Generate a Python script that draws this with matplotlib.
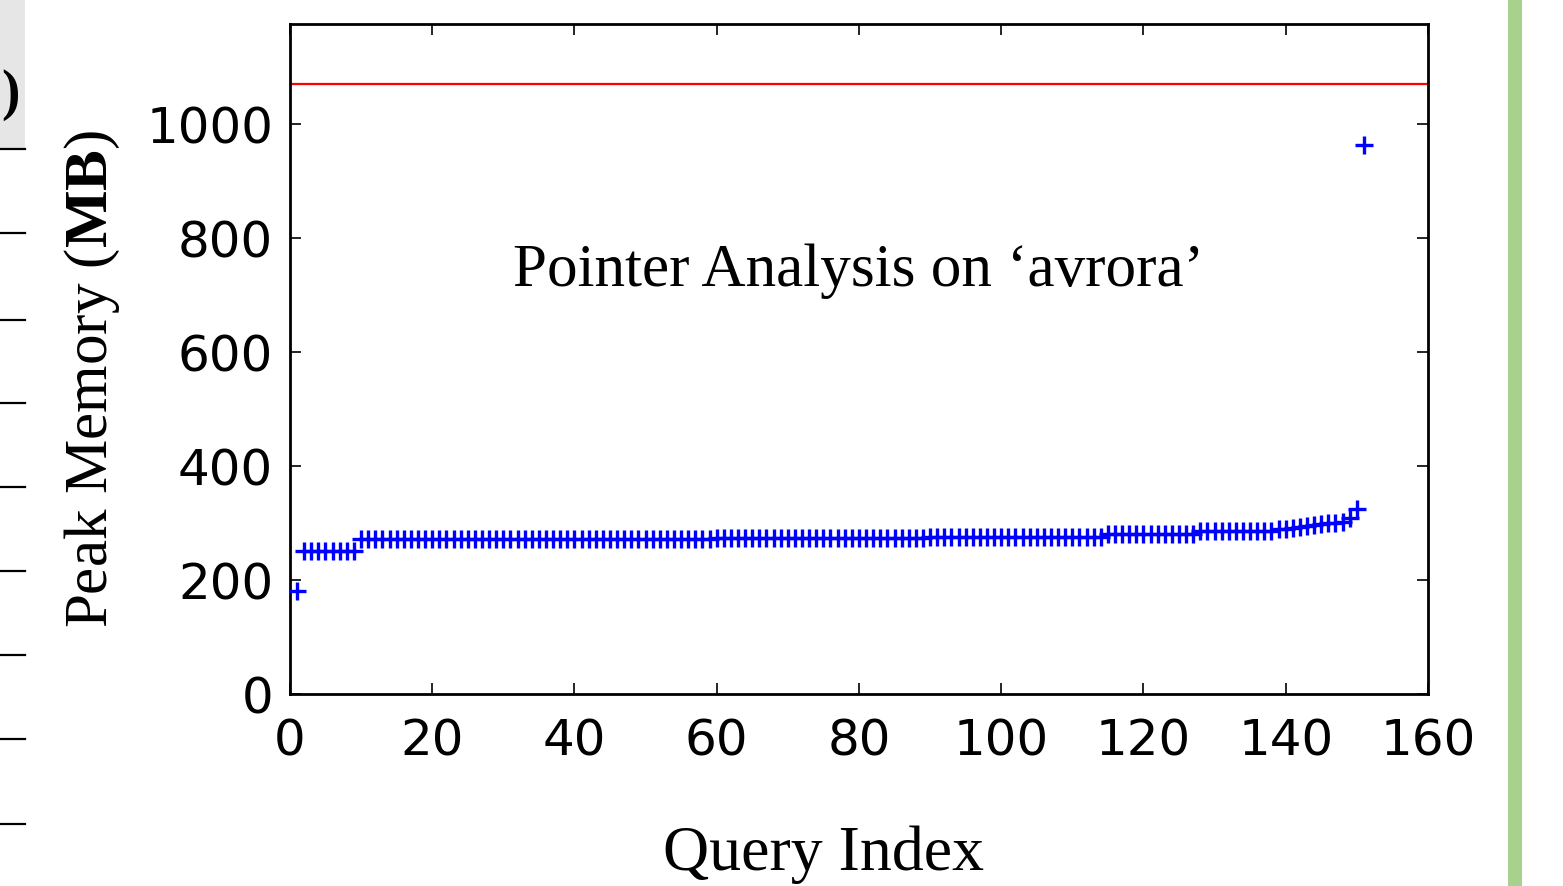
import matplotlib
matplotlib.use("Agg")
import matplotlib.pyplot as plt
from matplotlib.patches import Rectangle
from matplotlib.lines import Line2D

# ---- data ----
query_index = list(range(1, 152))
peak_memory = (
    [180]
    + [250] * 8                      # 2-9
    + [272] * 50                     # 10-59
    + [274] * 30                     # 60-89
    + [276] * 25                     # 90-114
    + [280] * 13                     # 115-127
    + [285] * 11                     # 128-138
    + [289, 290, 291, 293, 294, 296, 298, 299, 300, 302]  # 139-148
    + [308, 325, 962]                # 149-151
)
memory_limit = 1070
title_text = "Pointer Analysis on \u2018avrora\u2019"
x_ticks = [0, 20, 40, 60, 80, 100, 120, 140, 160]
y_ticks = [0, 200, 400, 600, 800, 1000]

plt.rcParams['mathtext.fontset'] = 'custom'
plt.rcParams['mathtext.rm'] = 'Liberation Serif'
plt.rcParams['mathtext.bf'] = 'Liberation Serif:bold'

fig = plt.figure(figsize=(15.63, 8.87), dpi=100)
ax = fig.add_axes([0.1855, 0.2165, 0.9136 - 0.1855, 0.9718 - 0.2165])

ax.plot(query_index, peak_memory, linestyle='none', marker='+',
        markersize=13, markeredgewidth=2.4, color='#0000ff', zorder=3)
ax.axhline(memory_limit, color='#ff0000', linewidth=1.6)

ax.set_xlim(0, 160)
ax.set_ylim(0, 1175)
ax.set_xticks(x_ticks)
ax.set_yticks(y_ticks)
ax.tick_params(direction='in', length=8, width=1.2, top=True, right=True,
               labelsize=36)
ax.tick_params(axis='x', pad=16)
ax.tick_params(axis='y', pad=12)
for lab in ax.get_xticklabels() + ax.get_yticklabels():
    lab.set_fontfamily('DejaVu Sans')
for sp in ax.spines.values():
    sp.set_linewidth(2.0)

ax.text(80, 718, title_text, ha='center', va='baseline',
        fontsize=44, family='Liberation Serif')
ax.set_xlabel("Query Index", fontsize=46, family='Liberation Serif')
ax.xaxis.label.set_va('baseline')
ax.xaxis.set_label_coords(0.469, -0.261)
ax.set_ylabel(r"Peak Memory ($\mathbf{MB}$)", fontsize=44,
              family='Liberation Serif')
ax.yaxis.set_label_coords(-0.148, 0.472)

# ---- cropped neighbouring-figure decorations ----
H = 887.0
W = 1563.0
fig.patches.append(Rectangle((0, 1 - 150 / H), 25 / W, 150 / H,
                             transform=fig.transFigure, facecolor='#e6e6e6',
                             edgecolor='none', zorder=0))
fig.text(1 / W, 1 - 95 / H, ")", fontsize=40, family='Liberation Serif',
         fontweight='bold', va='center', ha='left')
for yy in [150, 234, 321, 404, 488, 572, 656, 740, 825]:
    fig.lines.append(Line2D([0, 25 / W], [1 - yy / H, 1 - yy / H],
                            transform=fig.transFigure, color='black',
                            linewidth=1.6))
fig.patches.append(Rectangle((1508 / W, 0), 14 / W, 1,
                             transform=fig.transFigure, facecolor='#a9d18e',
                             edgecolor='none'))

fig.savefig("out.png", dpi=100)
